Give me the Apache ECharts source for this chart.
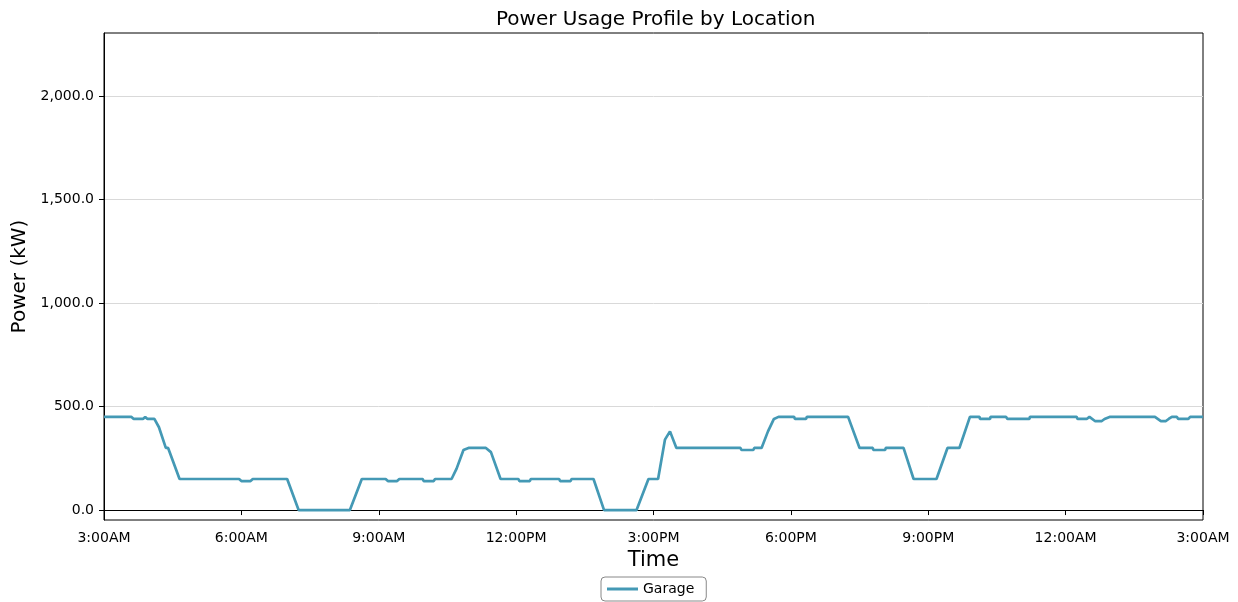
<!DOCTYPE html>
<html><head><meta charset="utf-8">
<script src="https://cdn.jsdelivr.net/npm/echarts@6/dist/echarts.min.js"></script>
<style>html,body{margin:0;padding:0;background:#fff}#c{width:1238px;height:602px}</style>
</head><body><div id="c"></div>
<script>
// Hours since 3:00AM
const hours = [0,0.6,0.65,0.85,0.9,0.95,1.1,1.2,1.35,1.4,1.65,2.95,3.0,3.2,3.25,4.0,4.25,5.37,5.63,6.15,6.2,6.4,6.45,6.96,6.98,7.2,7.23,7.59,7.7,7.85,7.96,8.34,8.45,8.66,9.05,9.07,9.3,9.32,9.94,9.96,10.19,10.21,10.69,10.92,11.63,11.89,12.1,12.25,12.36,12.5,13.9,13.92,14.18,14.2,14.36,14.5,14.63,14.73,15.07,15.09,15.33,15.35,16.25,16.5,16.79,16.8,17.06,17.07,17.46,17.68,18.18,18.42,18.68,18.91,19.12,19.13,19.35,19.36,19.7,19.73,20.21,20.22,21.24,21.26,21.46,21.52,21.64,21.79,21.85,21.96,22.95,23.08,23.19,23.25,23.32,23.43,23.46,23.68,23.72,24];
const garage = [450,450,440,440,450,440,440,400,300,300,150,150,140,140,150,150,0,0,150,150,140,140,150,150,140,140,150,150,200,290,300,300,280,150,150,140,140,150,150,140,140,150,150,0,0,150,150,340,380,300,300,290,290,300,300,380,440,450,450,440,440,450,450,300,300,290,290,300,300,150,150,300,300,450,450,440,440,450,450,440,440,450,450,440,440,450,430,430,440,450,450,430,430,440,450,450,440,440,450,450];
const xTicks = [0,3,6,9,12,15,18,21,24];
const xTickLabels = ['3:00AM','6:00AM','9:00AM','12:00PM','3:00PM','6:00PM','9:00PM','12:00AM','3:00AM'];
const yTicks = [0,500,1000,1500,2000];

const font = 'DejaVu Sans';
const chart = echarts.init(document.getElementById('c'));
chart.setOption({
  animation:false,
  textStyle:{fontFamily:font},
  title:{text:'Power Usage Profile by Location',left:491,top:5,textStyle:{fontFamily:font,fontSize:20,fontWeight:'normal',color:'#000'}},
  grid:{left:104,right:35,top:33,bottom:82,show:true,borderColor:'#000',borderWidth:1},
  legend:{bottom:1,left:601,data:['Garage'],icon:'rect',itemWidth:31,itemHeight:3,itemGap:10,
    borderColor:'#888',borderWidth:1,borderRadius:4,padding:[5,12,5,6],
    textStyle:{fontFamily:font,fontSize:14,color:'#000'}},
  xAxis:{type:'value',min:0,max:24,interval:3,name:'Time',nameLocation:'middle',nameGap:30,
    nameTextStyle:{fontFamily:font,fontSize:21,color:'#000'},
    axisLine:{show:true,lineStyle:{color:'#000'}},
    axisTick:{show:true,length:5,lineStyle:{color:'#000'}},
    axisLabel:{color:'#000',fontSize:14,margin:11,fontFamily:font,
      formatter:function(v){const i=xTicks.indexOf(v);return i>=0?xTickLabels[i]:'';}},
    splitLine:{show:false}},
  yAxis:{type:'value',min:-48,max:2304,name:'Power (kW)',nameLocation:'middle',nameGap:70,
    nameTextStyle:{fontFamily:font,fontSize:20,color:'#000'},
    axisLine:{show:true,lineStyle:{color:'#000'}},
    axisTick:{show:true,length:5,lineStyle:{color:'#000'},customValues:yTicks},
    axisLabel:{color:'#000',fontSize:14,margin:10,fontFamily:font,customValues:yTicks,
      formatter:function(v){return v.toLocaleString('en-US',{minimumFractionDigits:1,maximumFractionDigits:1});}},
    splitLine:{show:true,lineStyle:{color:'#d9d9d9',width:1}}},
  series:[{name:'Garage',type:'line',data:hours.map((h,i)=>[h,garage[i]]),showSymbol:false,symbol:'none',
    lineStyle:{color:'#4499b5',width:2.7},itemStyle:{color:'#4499b5'}}]
});
</script></body></html>
